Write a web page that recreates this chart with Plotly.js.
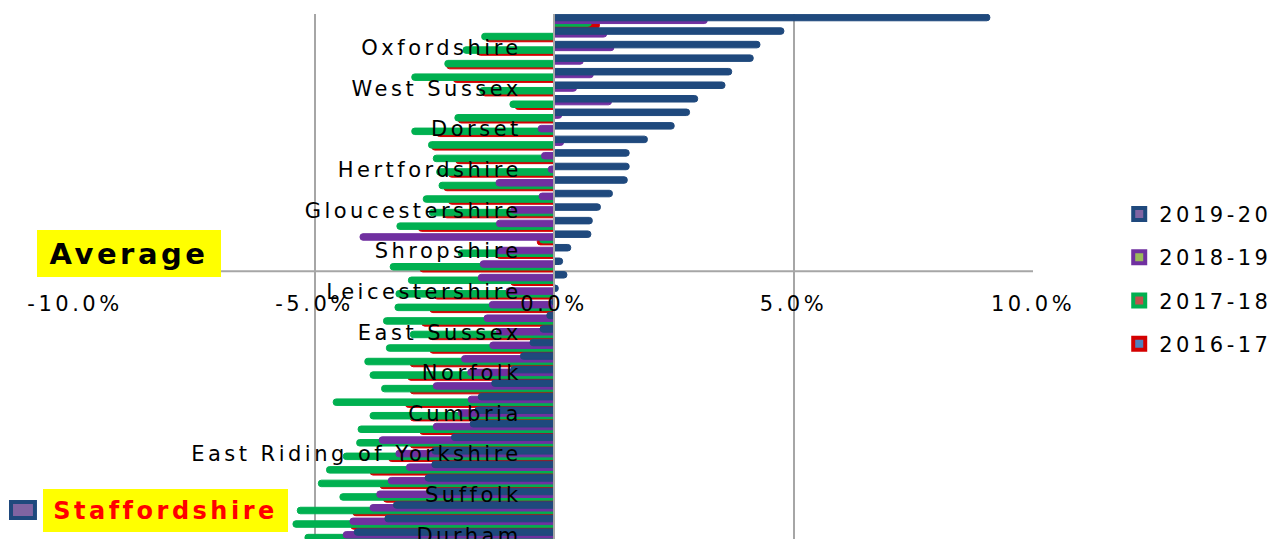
<!DOCTYPE html>
<html>
<head>
<meta charset="utf-8">
<script src="https://cdn.plot.ly/plotly-3.0.1.min.js"></script>
<style>
html, body { margin: 0; padding: 0; overflow: hidden; background: #ffffff; }
#chart { width: 1288px; height: 539px; }
svg text { letter-spacing: 3.5px; }
</style>
</head>
<body>
<div id="chart"></div>
<script>
// Categories, top to bottom (only every third one is labelled in the chart)
const counties = [
  'Rutland', 'Buckinghamshire', 'Oxfordshire',
  'Surrey', 'Wiltshire', 'West Sussex',
  'Hampshire', 'Warwickshire', 'Dorset',
  'Cambridgeshire', 'Herefordshire', 'Hertfordshire',
  'Somerset', 'Essex', 'Gloucestershire',
  'Kent', 'Devon', 'Shropshire',
  'Cornwall', 'Worcestershire', 'Leicestershire',
  'North Yorkshire', 'Cheshire East', 'East Sussex',
  'Lincolnshire', 'Northamptonshire', 'Norfolk',
  'Nottinghamshire', 'Derbyshire', 'Cumbria',
  'Lancashire', 'Northumberland', 'East Riding of Yorkshire',
  'Cheshire West and Chester', 'Isle of Wight', 'Suffolk',
  'Central Bedfordshire', 'Bedford', 'Durham'
];

const years = ['2016-17', '2017-18', '2018-19', '2019-20'];

// Percentage change values per year
const v2019_20 = [
  9.10, 4.80, 4.30, 4.16, 3.71, 3.57, 3.00, 2.83, 2.51, 1.95,
  1.57, 1.57, 1.53, 1.22, 0.97, 0.80, 0.77, 0.35, 0.18, 0.27,
  0.09, -0.05, -0.15, -0.29, -0.50, -0.70, -0.90, -1.30, -1.58, -1.65,
  -1.75, -2.14, -2.55, -2.55, -2.69, -2.66, -3.35, -3.53, -4.17
];
const v2018_19 = [
  3.20, 1.10, 1.25, 0.61, 0.82, 0.47, 1.20, 0.16, -0.33, 0.20,
  -0.26, -0.12, -1.21, -0.31, -0.90, -1.20, -4.05, -1.20, -1.54, -1.58,
  -1.00, -1.35, -1.46, -1.20, -1.34, -1.93, -1.80, -2.52, -1.79, -2.00,
  -2.52, -3.65, -3.30, -3.08, -3.46, -3.70, -3.84, -4.26, -4.40
];
const v2017_18 = [
  0.78, -1.51, -1.90, -2.28, -2.97, -1.55, -0.92, -2.07, -2.97, -2.62,
  -2.52, -2.45, -2.40, -2.73, -2.60, -3.28, -0.30, -2.00, -3.42, -3.04,
  -3.30, -3.32, -3.56, -3.00, -3.50, -3.95, -3.84, -3.60, -4.61, -3.84,
  -4.09, -4.12, -4.40, -4.75, -4.92, -4.47, -5.36, -5.45, -5.20
];
const v2016_17 = [
  0.95, -1.41, -1.60, -2.24, -2.10, -1.50, -0.81, -2.00, -2.45, -2.55,
  -2.05, -2.20, -2.30, -2.20, -2.30, -2.83, -0.35, -1.20, -2.80, -0.90,
  -2.50, -2.59, -2.76, -2.60, -2.59, -3.00, -3.05, -3.00, -3.10, -3.00,
  -2.80, -3.00, -3.45, -3.84, -3.63, -3.56, -4.20, -4.24, -4.20
];

const valueTicks = [-10, -5, 0, 5, 10];
const valueTickLabels = ['-10.0%', '-5.0%', '0.0%', '5.0%', '10.0%'];

// Styling
const seriesValues = [v2016_17, v2017_18, v2018_19, v2019_20];
const seriesColors = ['#D40000', '#00B050', '#7030A0', '#1F497D'];
const legendFills  = ['#4F81BD', '#C0504D', '#9BBB59', '#8064A2'];
const barOffsets   = [0.07, -0.075, -0.275, -0.48];
const barWidth = 0.48;
const labelledCounties = counties.filter((c, i) => i % 3 === 2);

const FONT = 'DejaVu Sans, Verdana, sans-serif';
const yTop = -0.5;
const yBottom = 38.27;
const averageBoundary = 18.5;
const axisPos = (yBottom - averageBoundary) / (yBottom - yTop);

const traces = [];
// actual bars (red drawn first, blue last so it sits on top)
for (let i = 0; i < 4; i++) {
  traces.push({
    type: 'bar',
    orientation: 'h',
    y: counties,
    x: seriesValues[i],
    width: barWidth,
    offset: barOffsets[i],
    marker: { color: seriesColors[i], line: { color: seriesColors[i], width: 1 }, cornerradius: 3 },
    showlegend: false,
    hoverinfo: 'skip'
  });
}
// legend entries (Excel-style: coloured border with accent fill)
for (let i = 3; i >= 0; i--) {
  traces.push({
    type: 'bar',
    orientation: 'h',
    y: [counties[0]],
    x: [null],
    name: years[i],
    legendgroup: years[i],
    marker: { color: legendFills[i], line: { color: seriesColors[i], width: 4 } },
    hoverinfo: 'skip'
  });
}

const layout = {
  width: 1288,
  height: 539,
  margin: { l: 75, r: 255, t: 14, b: 0, autoexpand: false },
  paper_bgcolor: '#ffffff',
  plot_bgcolor: 'rgba(0,0,0,0)',
  barmode: 'overlay',
  font: { family: FONT, size: 21, color: '#000000' },
  xaxis: {
    range: [-10, 10],
    tickmode: 'array',
    tickvals: valueTicks,
    ticktext: valueTickLabels,
    showgrid: true,
    gridcolor: '#A6A6A6',
    gridwidth: 2,
    zeroline: false,
    showline: false,
    anchor: 'free',
    position: axisPos,
    ticks: 'outside',
    ticklen: 14,
    tickcolor: 'rgba(0,0,0,0)',
    tickfont: { family: FONT, size: 21, color: '#000000' },
    fixedrange: true
  },
  yaxis: {
    type: 'category',
    categoryorder: 'array',
    categoryarray: counties,
    range: [yBottom, yTop],
    tickmode: 'array',
    tickvals: labelledCounties,
    ticktext: labelledCounties,
    showgrid: false,
    zeroline: false,
    showline: true,
    linecolor: '#A6A6A6',
    linewidth: 2,
    anchor: 'free',
    position: 0.5,
    ticks: '',
    ticklabelstandoff: 27,
    tickfont: { family: FONT, size: 21, color: '#000000' },
    layer: 'above traces',
    fixedrange: true
  },
  legend: {
    x: 1.09, xanchor: 'left',
    y: 0.6575, yanchor: 'top',
    traceorder: 'grouped',
    tracegroupgap: 13,
    itemwidth: 30,
    bgcolor: 'rgba(0,0,0,0)',
    font: { family: FONT, size: 21, color: '#000000' }
  },
  shapes: [
    { type: 'line', xref: 'paper', x0: 0, x1: 1, yref: 'y', y0: averageBoundary, y1: averageBoundary,
      line: { color: '#A6A6A6', width: 2 }, layer: 'below' },
    { type: 'rect', xref: 'paper', yref: 'paper', x0: -0.0668, x1: -0.0418, y0: 0.040, y1: 0.0705,
      fillcolor: '#8064A2', line: { color: '#1F497D', width: 4 } }
  ],
  annotations: [
    { xref: 'paper', yref: 'paper', x: 0.0564, y: 0.5438, xanchor: 'center', yanchor: 'middle',
      text: 'Average', showarrow: false,
      font: { family: FONT, size: 29, color: '#000000', weight: 'bold' },
      bgcolor: '#FFFF00', bordercolor: '#FFFF00', borderwidth: 1, borderpad: 5,
      width: 172, height: 35 },
    { xref: 'paper', yref: 'paper', x: 0.0945, y: 0.0543, xanchor: 'center', yanchor: 'middle',
      text: 'Staffordshire', showarrow: false,
      font: { family: FONT, size: 24, color: '#FF0000', weight: 'bold' },
      bgcolor: '#FFFF00', bordercolor: '#FFFF00', borderwidth: 1, borderpad: 5,
      width: 233, height: 31 }
  ]
};

Plotly.newPlot('chart', traces, layout, { displayModeBar: false, staticPlot: true });
</script>
</body>
</html>
